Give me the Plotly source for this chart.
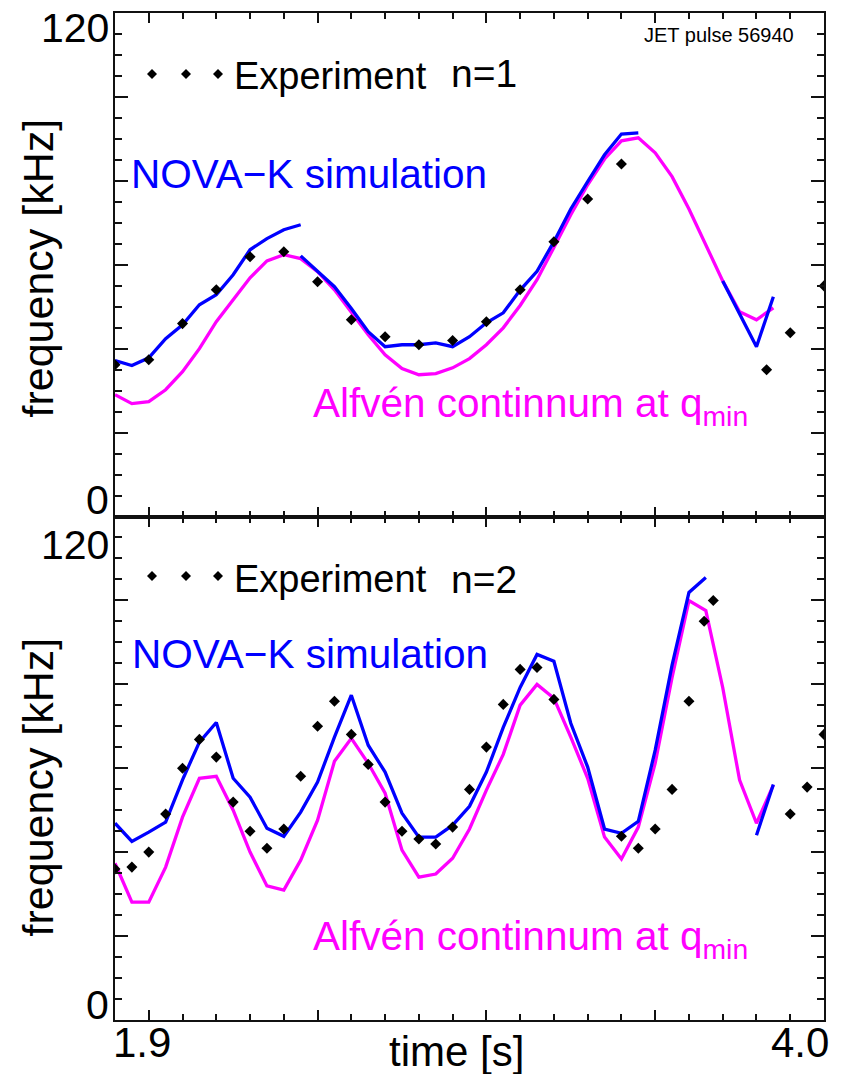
import plotly.graph_objects as go

# ---------------- data ----------------
# common time grid of the model curves [s]
t_grid = [1.90, 1.95, 2.00, 2.05, 2.10, 2.15, 2.20, 2.25, 2.30, 2.35,
          2.40, 2.45, 2.50, 2.55, 2.60, 2.65, 2.70, 2.75, 2.80, 2.85,
          2.90, 2.95, 3.00, 3.05, 3.10, 3.15, 3.20, 3.25, 3.30, 3.35,
          3.40, 3.45, 3.50, 3.55, 3.60, 3.65, 3.70, 3.75, 3.80, 3.85]

# ----- n = 1 panel -----
n1_exp_t = [1.9, 2.0, 2.1, 2.2, 2.3, 2.4, 2.5, 2.6, 2.7, 2.8, 2.9, 3.0,
            3.1, 3.2, 3.3, 3.4, 3.83, 3.9, 4.0]
n1_exp_f = [34.0, 35.3, 44.7, 53.5, 62.1, 63.4, 55.6, 45.7, 41.3, 39.2,
            40.3, 45.2, 53.5, 66.0, 77.1, 86.2, 32.7, 42.3, 54.5]

n1_nova_a_t = t_grid[0:12]
n1_nova_a_f = [35.1, 33.8, 35.8, 40.8, 44.4, 49.6, 52.2, 57.4, 63.9, 66.8,
               69.1, 70.4]
n1_nova_b_t = t_grid[11:32]
n1_nova_b_f = [62.3, 58.2, 54.3, 48.6, 42.6, 38.7, 39.2, 39.2, 39.7, 38.7,
               41.3, 44.9, 47.5, 53.4, 58.3, 66.0, 74.5, 81.6, 88.6, 94.0,
               94.3]
n1_nova_c_t = [3.70, 3.80, 3.85]
n1_nova_c_f = [55.8, 38.7, 51.7]

n1_alf_t = t_grid
n1_alf_f = [26.2, 23.9, 24.4, 27.5, 32.2, 38.2, 45.2, 50.9, 56.6, 61.0,
            62.6, 61.6, 58.2, 53.5, 47.8, 41.8, 36.6, 33.0, 31.4, 31.7,
            33.2, 35.6, 39.2, 43.6, 49.4, 56.1, 64.5, 73.0, 80.8, 87.5,
            92.2, 93.0, 89.1, 82.9, 74.5, 65.2, 55.8, 47.8, 45.7, 48.8]

# ----- n = 2 panel -----
n2_exp_t = [1.9, 1.95, 2.0, 2.05, 2.1, 2.15, 2.2, 2.25, 2.3, 2.35, 2.4,
            2.45, 2.5, 2.55, 2.6, 2.65, 2.7, 2.75, 2.8, 2.85, 2.9, 2.95,
            3.0, 3.05, 3.1, 3.15, 3.2, 3.4, 3.45, 3.5, 3.55, 3.6, 3.645,
            3.672, 3.9, 3.95, 4.0]
n2_exp_f = [33.8, 34.3, 38.2, 48.1, 60.0, 67.5, 62.9, 51.2, 43.6, 39.2,
            44.2, 57.9, 70.9, 77.4, 68.8, 61.0, 51.2, 43.6, 41.6, 40.3,
            44.7, 54.5, 65.5, 76.6, 85.7, 86.2, 77.9, 42.3, 39.2, 44.2,
            54.5, 77.4, 98.2, 103.6, 48.1, 55.1, 68.8]

n2_nova_a_t = t_grid[0:36]
n2_nova_a_f = [45.7, 41.0, 43.4, 46.0, 57.0, 66.8, 71.9, 57.4, 52.5, 44.4,
               42.3, 48.6, 56.4, 68.1, 79.0, 66.0, 59.0, 48.3, 42.1, 42.1,
               45.2, 50.1, 59.0, 70.6, 81.0, 89.6, 87.8, 71.7, 60.3, 44.2,
               43.1, 46.2, 64.7, 86.8, 105.7, 109.6]
n2_nova_b_t = [3.80, 3.85]
n2_nova_b_f = [42.6, 55.8]

n2_alf_t = t_grid
n2_alf_f = [35.3, 25.2, 25.2, 34.3, 47.3, 57.4, 57.9, 49.1, 38.2, 29.4,
            28.3, 36.1, 46.5, 61.8, 67.8, 61.3, 53.5, 38.7, 31.7, 32.5,
            36.6, 44.2, 54.3, 63.6, 76.4, 81.8, 78.2, 68.1, 57.4, 42.1,
            36.4, 44.7, 61.3, 83.6, 103.6, 101.0, 81.0, 56.9, 45.7, 55.6]

# ---------------- style / layout ----------------
W, H = 848, 1074
ML, MR, MT, MB = 115, 24, 11, 54
PW, PH = W - ML - MR, H - MT - MB
FONT = "Liberation Sans, Arial, Helvetica, sans-serif"
BLUE = "#0000FF"
MAG = "#FF00FF"
AX = "#111111"


def px(x):
    return (x - ML) / PW


def py(y):
    return (H - MB - y) / PH


fig = go.Figure()


def add_panel(xa, ya, alf_t, alf_f, nova_segs, exp_t, exp_f):
    fig.add_trace(go.Scatter(x=alf_t, y=alf_f, mode="lines",
                             line=dict(color=MAG, width=3.3),
                             xaxis=xa, yaxis=ya, showlegend=False,
                             hoverinfo="skip"))
    for st, sf in nova_segs:
        fig.add_trace(go.Scatter(x=st, y=sf, mode="lines",
                                 line=dict(color=BLUE, width=3.3),
                                 xaxis=xa, yaxis=ya, showlegend=False,
                                 hoverinfo="skip"))
    fig.add_trace(go.Scatter(x=exp_t, y=exp_f, mode="markers",
                             marker=dict(symbol="diamond", size=8.5,
                                         color="black"),
                             xaxis=xa, yaxis=ya, showlegend=False,
                             hoverinfo="skip"))


add_panel("x", "y", n1_alf_t, n1_alf_f,
          [(n1_nova_a_t, n1_nova_a_f), (n1_nova_b_t, n1_nova_b_f),
           (n1_nova_c_t, n1_nova_c_f)], n1_exp_t, n1_exp_f)
add_panel("x2", "y2", n2_alf_t, n2_alf_f,
          [(n2_nova_a_t, n2_nova_a_f), (n2_nova_b_t, n2_nova_b_f)],
          n2_exp_t, n2_exp_f)

step = 120 / 22.0


def xaxis_cfg(anchor):
    return dict(range=[1.9, 4.0], anchor=anchor, domain=[0, 1],
                tickmode="linear", tick0=2.0, dtick=0.5,
                ticks="inside", ticklen=10, tickwidth=1.5, tickcolor=AX,
                showticklabels=False, showgrid=False, zeroline=False,
                showline=True, linecolor=AX, linewidth=2, mirror="ticks",
                minor=dict(ticks="inside", ticklen=6, tickwidth=1.5,
                           tickcolor=AX, tickmode="linear", tick0=1.9,
                           dtick=0.1, showgrid=False))


def yaxis_cfg(anchor, dom):
    return dict(range=[-step, 23 * step], anchor=anchor, domain=dom,
                tickmode="linear", tick0=-step, dtick=4 * step,
                ticks="inside", ticklen=13, tickwidth=1.5, tickcolor=AX,
                showticklabels=False, showgrid=False, zeroline=False,
                showline=True, linecolor=AX, linewidth=2, mirror="ticks",
                minor=dict(ticks="inside", ticklen=7, tickwidth=1.5,
                           tickcolor=AX, tickmode="linear", tick0=0,
                           dtick=step, showgrid=False))


split = 0.5
annotations = []


def txt(text, x, y, size, color="black", xanchor="left", yanchor="middle",
        angle=0):
    annotations.append(dict(text=text, x=px(x), y=py(y), xref="paper",
                            yref="paper", xanchor=xanchor, yanchor=yanchor,
                            showarrow=False, textangle=angle,
                            font=dict(family=FONT, size=size, color=color)))


# axis numbers / titles
txt("120", 111, 26, 41, xanchor="right")
txt("0", 111, 499, 41, xanchor="right")
txt("120", 111, 544, 41, xanchor="right")
txt("0", 111, 1005, 41, xanchor="right")
txt("1.9", 111, 1043, 42, xanchor="left")
txt("4.0", 831, 1043, 42, xanchor="right")
txt("time [s]", 456, 1052, 42, xanchor="center")
txt("frequency [kHz]", 38, 267, 43, xanchor="center", angle=-90)
txt("frequency [kHz]", 38, 787, 43, xanchor="center", angle=-90)

# panel texts (top)
txt("Experiment", 232, 74, 38)
txt("n=1", 449, 72, 39)
txt("JET pulse 56940", 796, 33, 20, xanchor="right")
txt("NOVA\u2212K simulation", 129, 172, 40.5, color=BLUE)
txt("Alfv\u00e9n continnum at q<sub>min</sub>", 311, 405, 40.5, color=MAG)
# panel texts (bottom)
txt("Experiment", 232, 578, 38)
txt("n=2", 449, 579, 39)
txt("NOVA\u2212K simulation", 130, 653, 40.5, color=BLUE)
txt("Alfv\u00e9n continnum at q<sub>min</sub>", 311, 939, 40.5, color=MAG)

# legend diamonds (decoration)
shapes = []
for cy in (72, 575):
    for cx in (152, 186, 218):
        shapes.append(dict(type="path", xref="paper", yref="paper",
                           xsizemode="pixel", ysizemode="pixel",
                           xanchor=px(cx), yanchor=py(cy),
                           path="M0,5 L5,0 L0,-5 L-5,0 Z",
                           fillcolor="black", line=dict(width=0)))

fig.update_layout(
    width=W, height=H,
    margin=dict(l=ML, r=MR, t=MT, b=MB, pad=0),
    paper_bgcolor="white", plot_bgcolor="white",
    showlegend=False,
    font=dict(family=FONT, color="black"),
    xaxis=xaxis_cfg("y"),
    yaxis=yaxis_cfg("x", [split, 1]),
    xaxis2=xaxis_cfg("y2"),
    yaxis2=yaxis_cfg("x2", [0, split]),
    annotations=annotations,
    shapes=shapes,
)

fig.write_html("out.html")
